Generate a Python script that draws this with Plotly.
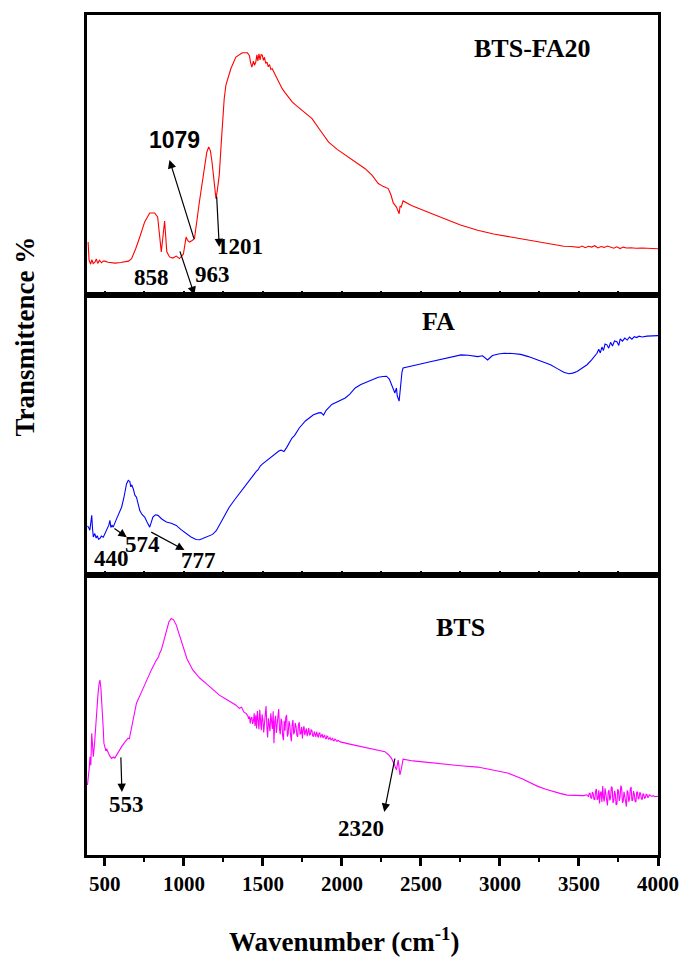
import plotly.graph_objects as go
from plotly.subplots import make_subplots

# ---- FTIR spectra (wavenumber in cm-1, transmittance in arbitrary panel units) ----
wn_btsfa20 = [394, 400, 410, 418, 426, 438, 446, 455, 466, 478, 490, 501, 520, 540, 564, 600, 626, 650,
              669, 695, 721, 752, 784, 815, 834, 846, 857, 866, 878, 885, 892, 909, 930, 952, 972, 997,
              1014, 1024, 1035, 1050, 1067, 1098, 1130, 1145, 1157, 1168, 1178, 1192, 1203, 1212, 1224,
              1235, 1245, 1255, 1266, 1297, 1329, 1370, 1402, 1415, 1422, 1430, 1440, 1447, 1455, 1462,
              1468, 1475, 1482, 1489, 1496, 1503, 1510, 1518, 1526, 1534, 1542, 1550, 1559, 1570, 1580,
              1589, 1600, 1610, 1622, 1640, 1664, 1685, 1706, 1760, 1811, 1860, 1916, 1970, 2021, 2080,
              2147, 2190, 2230, 2260, 2293, 2310, 2325, 2345, 2355, 2362, 2368, 2375, 2387, 2440, 2550,
              2650, 2750, 2859, 2960, 3069, 3180, 3279, 3350, 3404, 3450, 3500, 3520, 3540, 3560, 3580,
              3600, 3620, 3640, 3660, 3680, 3698, 3720, 3740, 3760, 3780, 3800, 3830, 3860, 3900, 3950,
              3992, 4000]
t_btsfa20 = [18.9, 12.5, 11.0, 12.6, 11.2, 11.8, 12.9, 11.3, 12.4, 11.5, 12.1, 12.1, 11.7, 11.6, 11.4,
             11.6, 11.8, 12.1, 13.0, 16.5, 20.7, 26.1, 29.3, 29.3, 27.9, 22.0, 15.4, 20.0, 26.4, 21.0,
             15.4, 13.6, 13.2, 13.9, 13.0, 14.6, 20.7, 19.5, 18.9, 19.4, 20.1, 33.2, 45.1, 51.0, 52.9,
             51.5, 47.5, 40.0, 34.4, 37.5, 42.9, 53.0, 63.0, 70.0, 75.0, 80.8, 85.0, 86.5, 86.5, 85.5,
             83.0, 81.4, 83.5, 82.0, 83.2, 85.8, 83.6, 86.1, 84.0, 85.9, 85.7, 83.8, 84.9, 82.7, 83.2,
             81.5, 82.3, 80.6, 80.8, 79.6, 78.4, 77.5, 76.0, 75.2, 73.7, 72.3, 70.4, 69.0, 67.9, 65.4,
             63.0, 59.0, 54.6, 52.0, 50.0, 47.8, 45.1, 42.8, 39.8, 38.8, 38.0, 35.8, 32.9, 31.4, 30.0,
             29.0, 31.8, 31.4, 33.6, 32.0, 29.5, 27.3, 25.0, 23.1, 21.8, 20.7, 19.6, 18.7, 17.9, 17.4,
             17.3, 17.0, 17.5, 16.9, 17.4, 17.1, 17.6, 16.8, 17.3, 17.0, 17.5, 17.1, 16.7, 17.2, 16.6,
             17.1, 16.8, 16.9, 16.7, 16.8, 16.6, 16.5, 16.5]

wn_fa = [390, 396, 405, 410, 417, 422, 427, 436, 445, 452, 460, 469, 478, 490, 501, 515, 525, 532, 538,
         545, 553, 570, 590, 606, 620, 637, 648, 658, 664, 670, 679, 690, 700, 710, 721, 735, 752, 766,
         784, 792, 804, 820, 836, 860, 889, 920, 952, 980, 1014, 1045, 1077, 1100, 1119, 1150, 1182,
         1205, 1224, 1255, 1287, 1320, 1350, 1390, 1433, 1445, 1458, 1470, 1483, 1496, 1530, 1559, 1580,
         1601, 1615, 1633, 1650, 1670, 1685, 1700, 1730, 1769, 1800, 1820, 1853, 1868, 1884, 1900, 1936,
         1980, 2021, 2050, 2084, 2120, 2167, 2200, 2230, 2260, 2282, 2300, 2314, 2328, 2335, 2345, 2350,
         2362, 2370, 2380, 2387, 2440, 2490, 2545, 2620, 2691, 2754, 2800, 2859, 2890, 2905, 2922, 2935,
         2953, 2990, 3027, 3080, 3131, 3180, 3236, 3280, 3320, 3360, 3404, 3436, 3460, 3488, 3520, 3551,
         3580, 3600, 3614, 3625, 3635, 3645, 3655, 3665, 3677, 3688, 3700, 3712, 3725, 3740, 3752, 3761,
         3775, 3790, 3805, 3820, 3835, 3850, 3865, 3880, 3900, 3930, 3960, 3991, 4000]
t_fa = [17.5, 17.1, 16.0, 19.0, 21.3, 16.5, 13.6, 14.8, 13.2, 14.0, 12.8, 13.0, 13.9, 13.5, 14.9, 16.5,
        17.8, 19.5, 17.0, 17.8, 17.1, 19.5, 22.0, 24.2, 27.5, 32.5, 33.8, 33.4, 31.5, 32.2, 30.9, 28.5,
        27.8, 25.0, 23.0, 21.6, 20.7, 19.0, 17.1, 18.5, 20.7, 21.5, 21.3, 20.0, 18.9, 18.5, 17.7, 16.3,
        14.8, 13.6, 12.7, 12.6, 13.0, 13.6, 14.5, 15.8, 17.7, 21.0, 24.2, 26.8, 29.0, 32.0, 35.5, 36.2,
        37.0, 37.6, 38.9, 39.6, 41.2, 42.6, 43.6, 44.3, 44.6, 44.1, 45.5, 47.3, 49.0, 49.8, 52.5, 55.0,
        56.3, 57.2, 57.9, 58.0, 57.1, 58.8, 60.9, 62.0, 63.2, 64.6, 66.8, 68.0, 69.1, 70.0, 70.6, 70.9,
        71.0, 70.0, 68.0, 65.5, 65.0, 66.8, 64.0, 62.1, 67.0, 72.5, 73.9, 74.5, 75.3, 76.0, 77.0, 77.7,
        78.6, 78.5, 78.0, 78.3, 77.6, 76.8, 77.5, 78.4, 78.9, 79.2, 79.1, 78.8, 78.0, 76.8, 76.0, 75.1,
        73.8, 72.4, 71.9, 72.1, 72.7, 73.8, 75.1, 76.8, 78.4, 79.2, 80.6, 79.3, 81.4, 80.2, 82.5, 82.2,
        81.0, 83.1, 81.8, 83.6, 83.3, 82.0, 84.3, 83.5, 84.6, 83.9, 85.0, 84.2, 85.1, 84.8, 85.3, 85.0,
        85.3, 85.4, 85.5, 85.5]

# BTS spectrum in four pieces: smooth low-wavenumber part, noisy 1410-1980 band,
# smooth middle part, noisy 3550-3950 band.
wn_bts_low = [390, 396, 401, 406, 411, 417, 422, 427, 435, 442, 448, 456, 463, 469, 475, 480, 486, 490,
              494, 505, 512, 521, 530, 543, 555, 563, 574, 590, 606, 625, 640, 647, 655, 662, 672, 685,
              700, 730, 763, 795, 826, 840, 845, 857, 873, 889, 905, 920, 935, 952, 970, 993, 1020,
              1056, 1100, 1140, 1180, 1200, 1224, 1260, 1308, 1330, 1350, 1365, 1380, 1395, 1405]
t_bts_low = [25.0, 27.4, 31.0, 35.1, 32.0, 43.5, 38.0, 35.1, 40.0, 47.0, 51.8, 57.0, 61.0, 62.5, 59.5,
             55.0, 51.8, 45.0, 39.9, 37.5, 37.8, 36.3, 35.5, 34.5, 35.0, 34.6, 35.7, 37.0, 38.7, 40.2,
             41.1, 41.7, 41.5, 43.5, 47.0, 50.5, 54.2, 58.0, 62.5, 66.2, 69.6, 70.8, 71.9, 73.2, 76.5,
             80.4, 83.2, 84.5, 84.0, 82.1, 78.9, 74.4, 70.0, 66.1, 63.2, 61.3, 59.3, 58.5, 57.1, 55.9,
             54.2, 53.5, 52.4, 52.8, 51.0, 50.5, 49.6]
wn_bts_band1 = list(range(1410, 1985, 5))
t_bts_band1 = [48.6, 49.5, 47.0, 48.9, 49.3, 46.8, 47.8, 50.6, 46.1, 49.9, 45.2, 51.4, 48.0, 44.9, 51.9,
               47.3, 44.6, 50.2, 48.3, 43.8, 46.5, 49.7, 53.2, 45.9, 42.0, 48.8, 47.1, 44.2, 50.6, 46.9,
               45.0, 51.3, 39.9, 47.5, 49.7, 43.6, 46.2, 50.8, 52.1, 44.9, 43.1, 48.7, 47.6, 42.5, 41.0,
               47.9, 44.4, 49.2, 50.0, 42.3, 43.3, 47.8, 46.7, 42.9, 40.6, 46.4, 48.2, 43.1, 44.0, 47.1,
               45.8, 42.7, 42.2, 46.5, 47.4, 43.0, 43.5, 45.8, 41.6, 44.9, 46.0, 42.8, 44.1, 45.2, 42.4,
               44.6, 45.3, 42.9, 43.0, 44.8, 44.5, 42.6, 42.3, 44.1, 43.1, 42.2, 44.0, 42.9, 41.9, 43.5,
               43.6, 42.0, 42.4, 43.2, 41.8, 42.6, 42.9, 41.7, 41.4, 42.5, 42.3, 41.3, 41.7, 41.9, 41.0,
               41.6, 41.8, 40.9, 40.8, 41.4, 41.3, 40.7, 40.6, 41.0, 40.7]
wn_bts_mid = [1990, 2050, 2125, 2200, 2272, 2295, 2314, 2330, 2345, 2356, 2367, 2377, 2387, 2450, 2545,
              2650, 2750, 2859, 2950, 3048, 3140, 3236, 3290, 3341, 3380, 3425, 3470, 3509, 3530]
t_bts_mid = [40.4, 39.6, 38.7, 37.8, 36.9, 35.8, 34.5, 32.5, 30.4, 33.9, 28.6, 31.0, 34.2, 33.6, 33.0,
             32.4, 31.9, 31.4, 30.5, 29.3, 27.2, 24.6, 23.5, 22.6, 22.0, 21.4, 21.3, 21.4, 21.2]
wn_bts_band2 = list(range(3550, 3955, 5)) + [3960, 3970, 3980, 3990, 4000]
t_bts_band2 = [21.5, 20.9, 20.8, 22.1, 22.0, 20.4, 20.3, 22.5, 21.9, 19.9, 19.8, 22.8, 23.6, 19.7, 20.2,
               23.1, 18.4, 22.0, 22.7, 18.9, 24.6, 20.5, 19.1, 23.8, 21.3, 18.2, 17.7, 22.4, 23.2, 19.5,
               20.5, 24.4, 24.0, 18.6, 19.4, 22.9, 21.8, 17.9, 18.1, 23.5, 22.9, 19.3, 20.7, 24.8, 23.9,
               18.7, 19.2, 22.6, 21.0, 18.3, 17.3, 23.0, 22.4, 19.0, 20.1, 23.7, 24.3, 19.4, 19.6, 22.8,
               21.7, 19.2, 18.9, 22.3, 22.6, 19.9, 20.3, 22.4, 21.9, 20.1, 19.8, 21.9, 21.5, 20.3, 20.4,
               21.7, 21.6, 20.6, 20.7, 21.5, 21.3, 20.9, 21.2, 20.8, 21.0, 20.9]

wn_bts = wn_bts_low + wn_bts_band1 + wn_bts_mid + wn_bts_band2
t_bts = t_bts_low + t_bts_band1 + t_bts_mid + t_bts_band2

sample_names = ["BTS-FA20", "FA", "BTS"]
sample_colors = ["#ff0000", "#0000ff", "#ff00ff"]

tick_vals = [500, 1000, 1500, 2000, 2500, 3000, 3500, 4000]
tick_text = ["500", "1000", "1500", "2000", "2500", "3000", "3500", "4000"]

SERIF = "Liberation Serif, Times New Roman, serif"
SANS = "Liberation Sans, Arial, sans-serif"

# Peak labels: (panel row, text, wavenumber, transmittance, font family)
peak_labels = [
    (1, "1079", 941, 55.4, SANS),
    (1, "1201", 1352, 17.5, SERIF),
    (1, "858", 796, 6.1, SERIF),
    (1, "963", 1180, 7.5, SERIF),
    (2, "440", 545, 6.0, SERIF),
    (2, "574", 740, 10.8, SERIF),
    (2, "777", 1092, 5.3, SERIF),
    (3, "553", 639, 17.9, SERIF),
    (3, "2320", 2123, 9.6, SERIF),
]
# Pointer arrows: (panel row, tail wn, tail T, head wn, head T)
peak_arrows = [
    (1, 1067, 19.6, 909, 48.2),
    (1, 1207, 35.7, 1224, 17.1),
    (1, 972, 16.1, 1067, 0.0),
    (2, 551, 17.0, 639, 13.5),
    (2, 784, 15.6, 1004, 8.9),
    (3, 601, 35.4, 608, 22.5),
    (3, 2337, 35.0, 2268, 15.4),
]
# Sample name positions: (row, wn, T)
name_pos = [(1, 3205, 87.9), (2, 2608, 90.4), (3, 2752, 81.1)]

fig = make_subplots(rows=3, cols=1, shared_xaxes=True, vertical_spacing=0)

series = [(wn_btsfa20, t_btsfa20), (wn_fa, t_fa), (wn_bts, t_bts)]
for i, (wx, ty) in enumerate(series):
    fig.add_trace(go.Scatter(x=wx, y=ty, mode="lines", name=sample_names[i],
                             line=dict(color=sample_colors[i], width=1.1),
                             showlegend=False), row=i + 1, col=1)

for r in (1, 2, 3):
    common = dict(range=[387, 4000], showline=True, linewidth=3, linecolor="black",
                  mirror=True, showgrid=False, zeroline=False)
    if r < 3:
        fig.update_xaxes(ticks="inside", ticklen=4, tickwidth=1.5, tickcolor="black",
                         dtick=250, tick0=500, showticklabels=False, row=r, col=1, **common)
    else:
        fig.update_xaxes(ticks="outside", ticklen=8, tickwidth=2.5, tickcolor="black",
                         tickvals=tick_vals, ticktext=tick_text,
                         tickfont=dict(family=SERIF, size=21, color="black", weight="bold"),
                         minor=dict(ticks="outside", ticklen=4, tickwidth=2, tickcolor="black",
                                    tickvals=[750, 1250, 1750, 2250, 2750, 3250, 3750]),
                         row=r, col=1, **common)
    fig.update_yaxes(range=[0, 100], showline=True, linewidth=3, linecolor="black", mirror=True,
                     showticklabels=False, ticks="", showgrid=False, zeroline=False, row=r, col=1)

annotations = []
for row, text, wx, ty, fam in peak_labels:
    sfx = "" if row == 1 else str(row)
    annotations.append(dict(x=wx, y=ty, xref="x" + sfx, yref="y" + sfx, text=text,
                            showarrow=False, xanchor="center", yanchor="middle",
                            font=dict(family=fam, size=23, color="black", weight="bold")))
for row, tx, tyv, hx, hy in peak_arrows:
    sfx = "" if row == 1 else str(row)
    annotations.append(dict(x=hx, y=hy, ax=tx, ay=tyv, xref="x" + sfx, yref="y" + sfx,
                            axref="x" + sfx, ayref="y" + sfx, text="", showarrow=True,
                            arrowhead=2, arrowsize=1.4, arrowwidth=1.2, arrowcolor="black",
                            standoff=0, startstandoff=0))
for (row, wx, ty), name in zip(name_pos, sample_names):
    sfx = "" if row == 1 else str(row)
    annotations.append(dict(x=wx, y=ty, xref="x" + sfx, yref="y" + sfx, text=name,
                            showarrow=False, xanchor="center", yanchor="middle",
                            font=dict(family=SERIF, size=26, color="black", weight="bold")))

annotations.append(dict(x=0.4495, y=-0.101, xref="paper", yref="paper",
                        text="Wavenumber (cm<sup>-1</sup>)", showarrow=False,
                        xanchor="center", yanchor="middle",
                        font=dict(family=SERIF, size=27, color="black", weight="bold")))
annotations.append(dict(x=-0.108, y=0.6176, xref="paper", yref="paper",
                        text="Transmittence %", showarrow=False, textangle=-90,
                        xanchor="center", yanchor="middle",
                        font=dict(family=SERIF, size=27, color="black", weight="bold")))

fig.update_layout(width=691, height=957, margin=dict(l=87, r=30, t=13, b=102),
                  paper_bgcolor="white", plot_bgcolor="white",
                  font=dict(family=SERIF, color="black"),
                  annotations=annotations)

fig.write_html("out.html")
